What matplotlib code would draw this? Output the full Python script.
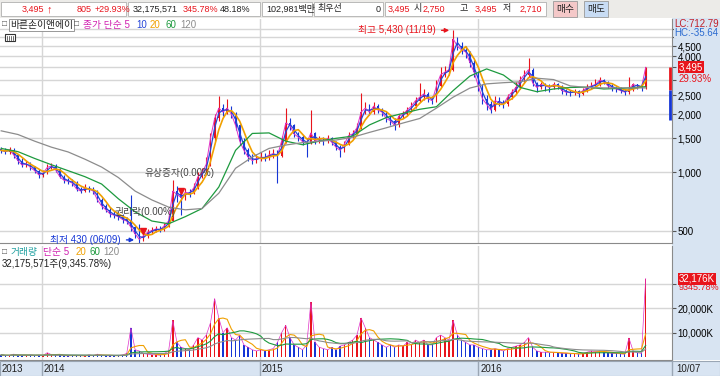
import numpy as np
import pandas as pd
import matplotlib
matplotlib.use('Agg')
import matplotlib.pyplot as plt
import matplotlib.dates as mdates
import matplotlib.transforms as mtransforms
from matplotlib.patches import Rectangle

plt.rcParams['font.family'] = ['Liberation Sans Narrow', 'Liberation Sans', 'Noto Sans CJK KR']
plt.rcParams['font.size'] = 7

# 주간 데이터
dates = pd.date_range('2013-10-25', '2016-10-07', freq='W-FRI')
first_open = 1320
close = [1300, 1280, 1310, 1230, 1150, 1090, 1110, 1060, 1020, 970,
         990, 1060, 1080, 1030, 950, 910, 900, 880, 820, 800,
         830, 820, 800, 720, 670, 640, 610, 600, 590, 570,
         560, 520, 480, 450, 470, 490, 500, 510, 505, 530,
         560, 800, 770, 740, 790, 780, 830, 950, 1000, 1100,
         1500, 1900, 2150, 2050, 2150, 2000, 1750, 1450, 1300, 1200,
         1150, 1180, 1200, 1190, 1230, 1250, 1220, 1450, 1800, 1750,
         1580, 1520, 1440, 1420, 1600, 1460, 1480, 1450, 1500, 1430,
         1350, 1300, 1400, 1550, 1580, 1700, 2050, 2150, 2050, 2200,
         2100, 2050, 1900, 1850, 1750, 1950, 2000, 2100, 2200, 2350,
         2450, 2550, 2400, 2350, 2800, 3200, 3300, 3400, 4900, 4500,
         4300, 4200, 3700, 3300, 2800, 2400, 2250, 2100, 2350, 2300,
         2250, 2450, 2600, 2750, 3000, 3200, 3400, 2900, 2750, 2850,
         2800, 2750, 2850, 2800, 2650, 2600, 2580, 2620, 2550, 2650,
         2750, 2800, 2850, 3000, 2950, 2800, 2750, 2700, 2650, 2600,
         2700, 2850, 2800, 2750, 3495]
high = [1360, 1340, 1360, 1330, 1250, 1180, 1150, 1130, 1080, 1040,
        1030, 1110, 1120, 1100, 1050, 970, 940, 920, 900, 840,
        870, 850, 840, 810, 740, 690, 660, 630, 620, 610,
        590, 760, 530, 540, 490, 510, 520, 530, 525, 550,
        600, 910, 850, 800, 830, 820, 880, 1000, 1050, 1200,
        1600, 2000, 2480, 2250, 2400, 2200, 2050, 1780, 1500, 1330,
        1240, 1250, 1280, 1260, 1300, 1320, 1300, 1550, 2150, 1900,
        1780, 1620, 1560, 1500, 2100, 1620, 1540, 1520, 1560, 1530,
        1460, 1380, 1460, 1620, 1660, 1800, 2580, 2300, 2250, 2300,
        2260, 2150, 2080, 1950, 1900, 2000, 2080, 2180, 2300, 2450,
        2900, 2700, 2600, 2480, 3000, 3500, 3550, 3650, 5430, 5000,
        4700, 4500, 4250, 3800, 3350, 2850, 2500, 2350, 2480, 2450,
        2380, 2550, 2700, 2950, 3150, 3400, 3900, 3450, 2950, 2950,
        2900, 2880, 2920, 2900, 2820, 2700, 2680, 2700, 2660, 2720,
        2850, 2950, 3050, 3100, 3050, 2980, 2850, 2800, 2750, 2700,
        3120, 2900, 2880, 2830, 3495]
low = [1260, 1240, 1250, 1190, 1110, 1060, 1070, 1030, 990, 940,
       950, 980, 1040, 1000, 930, 880, 870, 850, 800, 780,
       790, 790, 770, 700, 650, 620, 590, 580, 570, 550,
       540, 500, 460, 430, 440, 460, 480, 490, 490, 500,
       520, 560, 700, 600, 720, 750, 770, 820, 930, 980,
       1080, 1450, 1850, 1950, 2000, 1900, 1650, 1380, 1250, 1140,
       1100, 1120, 1150, 1150, 1160, 1180, 880, 1200, 1420, 1650,
       1520, 1460, 1380, 1200, 1400, 1400, 1420, 1380, 1420, 1380,
       1300, 1200, 1280, 1380, 1500, 1560, 1680, 2000, 1980, 2000,
       2020, 1950, 1820, 1760, 1650, 1720, 1900, 1960, 2060, 2150,
       2300, 2380, 2320, 2250, 2320, 2750, 3100, 3200, 3350, 4300,
       4100, 3900, 3500, 3100, 2650, 2250, 2100, 2020, 2080, 2200,
       2150, 2200, 2400, 2550, 2700, 2900, 3100, 2800, 2620, 2700,
       2650, 2620, 2700, 2700, 2550, 2500, 2480, 2500, 2450, 2500,
       2600, 2700, 2750, 2800, 2850, 2720, 2650, 2620, 2560, 2520,
       2550, 2650, 2700, 2640, 2710]
# 거래량 (천주)
volume = [900, 600, 700, 1200, 800, 700, 600, 900, 700, 800,
          600, 1800, 1000, 700, 900, 600, 500, 600, 700, 600,
          500, 900, 600, 1200, 800, 600, 500, 700, 600, 900,
          1500, 12000, 3000, 2500, 1500, 1200, 1000, 900, 800, 1500,
          2500, 15000, 6000, 4000, 3500, 3000, 5000, 8000, 7000, 9000,
          14000, 24000, 16000, 10000, 12000, 8000, 7000, 9000, 5000, 4000,
          3000, 2500, 3000, 2500, 3000, 3500, 6000, 10000, 13000, 8000,
          5000, 4000, 3000, 5000, 22500, 6000, 4000, 3500, 3000, 4000,
          3000, 4500, 5000, 6000, 7000, 9000, 16000, 12000, 8000, 7000,
          6000, 5000, 4000, 5000, 4000, 5000, 4500, 6000, 5000, 7000,
          6000, 7000, 5000, 5000, 8000, 9000, 8000, 7000, 15000, 9000,
          7000, 6000, 5000, 5000, 4000, 3500, 3000, 3000, 3500, 3000,
          2500, 3500, 4000, 4500, 5000, 6000, 8000, 4000, 2500, 2000,
          2000, 1800, 2000, 1800, 1500, 1500, 1300, 1500, 1200, 1500,
          2000, 2500, 2200, 2500, 2000, 1800, 1500, 1500, 1300, 1200,
          7800, 2500, 1800, 1500, 32176]

# 60일 / 120일 이동평균 (4주 간격으로 읽은 값)
ma_idx = list(range(0, 153, 4)) + [154]
ma60_pts = [1330, 1280, 1180, 1095, 1020, 950, 870, 730, 625, 560,
            542, 590, 650, 840, 1300, 1590, 1600, 1450, 1390, 1450,
            1500, 1540, 1760, 1920, 2020, 2120, 2185, 2650, 3150, 3430,
            3190, 2750, 2614, 2700, 2750, 2760, 2700, 2720, 2750, 2775]
ma120_pts = [1640, 1570, 1450, 1350, 1275, 1170, 1065, 940, 800, 720,
             661, 640, 650, 780, 1050, 1200, 1330, 1385, 1425, 1450,
             1470, 1520, 1610, 1700, 1800, 1900, 2150, 2450, 2730, 2870,
             2910, 2940, 3070, 3020, 2800, 2750, 2735, 2735, 2735, 2735]

price_ticks = [500, 1000, 1500, 2000, 2500, 3000, 3500, 4000, 4500, 5000, 5500]
price_labels = ['500', '1,000', '1,500', '2,000', '2,500', '', '', '4,000', '4,500', '', '']
vol_ticks = [10000, 20000, 30000]
vol_labels = ['10,000K', '20,000K', '']
year_marks = ['2014-01-01', '2015-01-01', '2016-01-01']
year_names = ['2014', '2015', '2016']

# 이벤트 표시
hi_date, hi_price = '2015-11-20', 5430
lo_date, lo_price = '2014-06-13', 430
events = [('권리락(0.00%)', '2014-06-20', 499, '2014-05-03', 623),
          ('유상증자(0.00%)', '2014-08-22', 803, '2014-06-22', 992)]
bar_range = [3495, 2670, 1870]

UP = '#e8141c'
DOWN = '#1536d6'
PANEL = '#d8e4f2'
GRID = '#d6d6d6'

W, H = 720, 376
def fx(x):
    return x / W
def fy(y):
    return 1 - y / H

fig = plt.figure(figsize=(7.2, 3.76), dpi=100)
fig.patch.set_facecolor('white')

ax = fig.add_axes([0, fy(243), fx(672), (243 - 19) / H])
axv = fig.add_axes([0, fy(360), fx(672), (360 - 246) / H], sharex=ax)

# 오른쪽 축 배경, 날짜 띠, 상단 헤더
fig.add_artist(Rectangle((fx(672), fy(360)), fx(48), (360 - 18) / H,
                         transform=fig.transFigure, facecolor=PANEL, edgecolor='none', zorder=-5))
fig.add_artist(Rectangle((0, 0), 1, fy(361), transform=fig.transFigure,
                         facecolor=PANEL, edgecolor='#9aa6b4', lw=0.8, zorder=-5))
fig.add_artist(Rectangle((0, fy(18)), 1, 18 / H, transform=fig.transFigure,
                         facecolor='#ecebe8', edgecolor='none', zorder=-5))
for x0, x1 in [(1, 126), (128, 260), (262, 312), (314, 383), (385, 546)]:
    fig.add_artist(Rectangle((fx(x0), fy(16)), fx(x1 - x0), 14 / H, transform=fig.transFigure,
                             facecolor='white', edgecolor='#b0b0b0', lw=0.6, zorder=-4))
# 작은 달력 아이콘
fig.add_artist(Rectangle((fx(5), fy(41)), fx(10), 7 / H, transform=fig.transFigure,
                         facecolor='white', edgecolor='#333333', lw=0.8, zorder=5))
for xi in (7, 9, 11, 13):
    fig.add_artist(plt.Line2D([fx(xi), fx(xi)], [fy(40), fy(36)], color='#333333', lw=0.5, zorder=6))

x = mdates.date2num(dates)
c = np.array(close, dtype=float)
o = np.array([first_open] + close[:-1], dtype=float)
hi = np.array(high, dtype=float)
lo = np.array(low, dtype=float)
up = c >= o
colors = np.where(up, UP, DOWN)

# 이동평균
cs = pd.Series(close, dtype=float)
ma5 = cs.rolling(1, min_periods=1).mean()
ma10 = cs.rolling(2, min_periods=1).mean()
ma20 = cs.rolling(4, min_periods=1).mean()

for a in (ax, axv):
    for d in year_marks:
        a.axvline(mdates.datestr2num(d), color=GRID, lw=1, zorder=0)

ax.set_yscale('log')
ax.vlines(x, lo, hi, colors=colors, lw=0.8, zorder=2)
ax.bar(x, np.abs(c - o) + 1, bottom=np.minimum(c, o), width=2.4, color=colors, zorder=2)
ax.plot(x, ma5, color='#e030c8', lw=0.7, zorder=3)
ax.plot(x, ma10, color='#2545d8', lw=0.9, zorder=3)
ax.plot(x, ma20, color='#f0a000', lw=1.2, zorder=4)
ax.plot(x[ma_idx], ma60_pts, color='#1d9a3e', lw=0.9, zorder=4)
ax.plot(x[ma_idx], ma120_pts, color='#8c8c8c', lw=0.9, zorder=4)

ax.set_ylim(431, 6216)
ax.set_xlim(mdates.datestr2num('2013-10-23'), mdates.datestr2num('2016-11-20'))
ax.set_yticks(price_ticks)
ax.set_yticklabels(price_labels)
ax.yaxis.set_minor_locator(matplotlib.ticker.NullLocator())
ax.yaxis.tick_right()
ax.grid(axis='y', color=GRID, lw=1, zorder=0)
ax.tick_params(axis='y', direction='out', length=3, pad=1, labelsize=7, color='#555555')
ax.tick_params(axis='x', bottom=False, labelbottom=False)
for s in ('top', 'left'):
    ax.spines[s].set_visible(False)
ax.spines['right'].set_color('#8a8a8a')
ax.spines['bottom'].set_color('#8a8a8a')

# 오른쪽 가격 범위 막대
xr = mdates.datestr2num('2016-11-16')
ax.vlines(xr, bar_range[1], bar_range[0], color=UP, lw=2, zorder=5)
ax.vlines(xr, bar_range[2], bar_range[1], color=DOWN, lw=2, zorder=5)

# 최고 / 최저
ax.annotate('최고 5,430 (11/19)', xy=(mdates.datestr2num(hi_date) - 2, hi_price),
            xytext=(-16, 0), textcoords='offset pixels', ha='right', va='center',
            color='#e8141c', fontsize=7,
            arrowprops=dict(arrowstyle='-|>', color='#e8141c', lw=1, mutation_scale=6))
ax.annotate('최저 430 (06/09)', xy=(mdates.datestr2num(lo_date) - 4, lo_price * 1.04),
            xytext=(-16, 0), textcoords='offset pixels', ha='right', va='center',
            color='#1536d6', fontsize=7,
            arrowprops=dict(arrowstyle='-|>', color='#1536d6', lw=1, mutation_scale=6))
for name, md, mp, td, tp in events:
    ax.plot(mdates.datestr2num(md), mp, marker='v', color=UP, ms=5, zorder=6)
    ax.text(mdates.datestr2num(td), tp, name, color='#444444', fontsize=7,
            va='center', ha='left', zorder=6)

# 현재가 박스
ax.text(1.01, 3495, '3,495', transform=ax.get_yaxis_transform(), color='white',
        fontsize=7, va='center', ha='left',
        bbox=dict(boxstyle='square,pad=0.1', facecolor='#e8141c', edgecolor='none'))
ax.text(1.01, 3040, '29.93%', transform=ax.get_yaxis_transform(), color='#e8141c',
        fontsize=7, va='center', ha='left')

# 거래량
axv.bar(x, volume, width=2.4, color=colors, zorder=2)
vs = pd.Series(volume, dtype=float)
axv.plot(x, vs.rolling(1, min_periods=1).mean(), color='#e030c8', lw=0.5, zorder=3)
axv.plot(x, vs.rolling(4, min_periods=1).mean(), color='#f0a000', lw=0.8, zorder=3)
axv.plot(x, vs.rolling(12, min_periods=1).mean(), color='#1d9a3e', lw=0.8, zorder=3)
axv.plot(x, vs.rolling(24, min_periods=1).mean(), color='#8c8c8c', lw=0.8, zorder=3)
axv.set_ylim(-1190, 45530)
axv.set_yticks(vol_ticks)
axv.set_yticklabels(vol_labels)
axv.yaxis.tick_right()
axv.grid(axis='y', color=GRID, lw=1, zorder=0)
axv.tick_params(axis='y', direction='out', length=3, pad=1, labelsize=7, color='#555555')
axv.tick_params(axis='x', bottom=False, labelbottom=False)
for s in ('top', 'left'):
    axv.spines[s].set_visible(False)
axv.spines['right'].set_color('#8a8a8a')
axv.spines['bottom'].set_color('#8a8a8a')
axv.text(1.01, volume[-1], '32,176K', transform=axv.get_yaxis_transform(), color='white',
         fontsize=7, va='center', ha='left',
         bbox=dict(boxstyle='square,pad=0.1', facecolor='#e8141c', edgecolor='none'))
axv.text(1.01, volume[-1] - 3700, '9345.78%', transform=axv.get_yaxis_transform(),
         color='#e8141c', fontsize=6.5, va='center', ha='left')

# 날짜 띠
bt = mtransforms.blended_transform_factory(axv.transData, fig.transFigure)
fig.text(fx(2), fy(369), '2013', fontsize=7, va='center', color='#222222')
for d, nm in zip(year_marks, year_names):
    xd = mdates.datestr2num(d)
    axv.plot([xd, xd], [fy(376), fy(361)], transform=bt, color='#9aa6b4', lw=1, clip_on=False)
    axv.text(xd + 3, fy(369), nm, transform=bt, fontsize=7, va='center', color='#222222')
fig.text(fx(676), fy(369), '10/07', fontsize=7, va='center', color='#222222')
fig.add_artist(plt.Line2D([fx(672), fx(672)], [0, fy(361)], color='#9aa6b4', lw=1))

# 범례
fig.text(fx(2), fy(25), '□', fontsize=6, va='center', color='#555555')
fig.text(fx(10), fy(25), '바른손이앤에이', fontsize=7, va='center', color='#222222',
         bbox=dict(boxstyle='square,pad=0.1', facecolor='white', edgecolor='#888888', lw=0.6))
fig.text(fx(74), fy(25), '□', fontsize=6, va='center', color='#555555')
leg = [('종가 단순 5', '#d020b0', 83), ('10', '#2545d8', 136), ('20', '#f0a000', 150),
       ('60', '#1d9a3e', 165), ('120', '#8c8c8c', 180)]
for t, col, xp in leg:
    fig.text(fx(xp), fy(25), t, fontsize=7, va='center', color=col)
fig.text(fx(2), fy(252), '□', fontsize=6, va='center', color='#555555')
vleg = [('거래량', '#20a0a0', 11), ('단순 5', '#d020b0', 43), ('20', '#f0a000', 76),
        ('60', '#1d9a3e', 89), ('120', '#8c8c8c', 103)]
for t, col, xp in vleg:
    fig.text(fx(xp), fy(252), t, fontsize=7, va='center', color=col)
fig.text(fx(2), fy(264), '32,175,571주(9,345.78%)', fontsize=7, va='center', color='#222222')

fig.text(fx(674), fy(24), 'LC:712.79', fontsize=7, va='center', color='#c0202a')
fig.text(fx(674), fy(33), 'HC:-35.64', fontsize=7, va='center', color='#2a6ad0',
         bbox=dict(boxstyle='square,pad=0.05', facecolor=PANEL, edgecolor='none'))

# 상단 시세 헤더
hdr = [('3,495', '#e8141c', 22), ('805', '#e8141c', 77), ('+29.93%', '#e8141c', 95),
       ('32,175,571', '#222222', 133), ('345.78%', '#e8141c', 183), ('48.18%', '#222222', 220),
       ('102,981백만', '#222222', 266), ('최우선', '#222222', 318), ('0', '#222222', 376),
       ('3,495', '#e8141c', 388), ('시', '#222222', 414), ('2,750', '#e8141c', 423),
       ('고', '#222222', 460), ('3,495', '#e8141c', 475), ('저', '#222222', 503),
       ('2,710', '#e8141c', 520)]
for t, col, xp in hdr:
    fig.text(fx(xp), fy(9), t, fontsize=6.5, va='center', color=col)
fig.text(fx(47), fy(9), '↑', fontsize=8, va='center', color='#e8141c', fontweight='bold')
fig.text(fx(565), fy(9), '매수', fontsize=7, va='center', ha='center', color='#222222',
         bbox=dict(boxstyle='square,pad=0.3', facecolor='#f4c8c8', edgecolor='#999999', lw=0.6))
fig.text(fx(596), fy(9), '매도', fontsize=7, va='center', ha='center', color='#222222',
         bbox=dict(boxstyle='square,pad=0.3', facecolor='#c8dcf4', edgecolor='#999999', lw=0.6))

fig.savefig('out.png', dpi=100)
